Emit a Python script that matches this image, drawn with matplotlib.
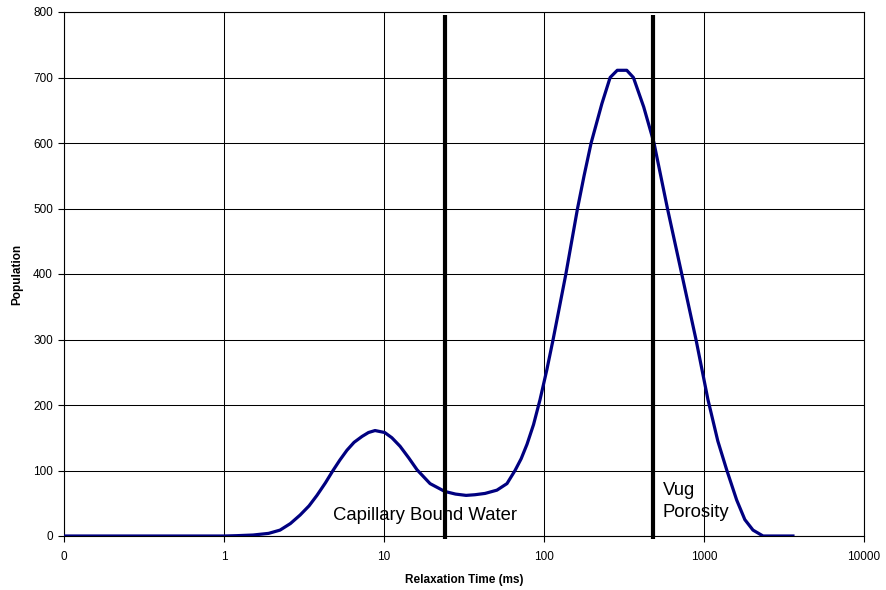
# NMR T2 relaxation time distribution with cutoffs
import numpy as np
import matplotlib.pyplot as plt
from matplotlib.ticker import FuncFormatter, FixedLocator, NullLocator

plt.rcParams['font.family'] = ['Liberation Sans', 'DejaVu Sans']

# Relaxation time (ms) and population
t2 = [0.1, 0.2, 0.5, 1.0, 1.2, 1.52, 1.9, 2.24, 2.6, 2.99, 3.4, 3.81, 4.3, 4.8,
      5.3, 5.87, 6.5, 7.29, 8.0, 8.79, 10.1, 11.2, 12.6, 14.3, 16.1, 19.4, 24.0,
      28.0, 32.6, 37.0, 42.8, 50.8, 58.7, 65.9, 72.0, 78.3, 86.0, 94.4, 104, 114,
      125, 137, 162, 178, 197, 230, 259, 287, 329, 362, 420, 487,
      591, 726, 891, 1059, 1220, 1386, 1600, 1800, 2024, 2339, 3597]
population = [0, 0, 0, 0, 0.5, 1.5, 4, 9, 19, 32, 46, 62, 81, 100,
              116, 131, 143, 152, 158, 161, 158, 150, 137, 119, 101, 80, 68,
              64, 62, 63, 65, 70, 80, 100, 118, 140, 170, 208, 253, 300,
              350, 400, 500, 550, 600, 660, 700, 711, 711, 700, 655, 600,
              500, 400, 300, 208, 145, 101, 55, 25, 9, 0, 0]

# Cutoffs (ms)
cutoffs = [24, 480]

fig = plt.figure(figsize=(8.86, 5.90), dpi=100)
ax = fig.add_axes([64/886, 54/590, 800/886, 524/590])

ax.set_xscale('log')
ax.set_xlim(0.1, 10000)
ax.set_ylim(0, 800)

ax.grid(True, which='major', color='black', lw=0.75)
ax.set_axisbelow(True)

ax.plot(t2, population, color='#000080', lw=2.3, solid_joinstyle='round', zorder=3)

for c in cutoffs:
    ax.vlines(c, -5, 795, color='black', lw=3, clip_on=False, zorder=4)

ax.text(4.8, 24, 'Capillary Bound Water', fontsize=13.3, va='baseline', ha='left')
ax.text(552, 62, 'Vug', fontsize=13.3, va='baseline', ha='left')
ax.text(552, 29, 'Porosity', fontsize=13.3, va='baseline', ha='left')

ax.xaxis.set_major_locator(FixedLocator([0.1, 1, 10, 100, 1000, 10000]))
ax.xaxis.set_minor_locator(NullLocator())
ax.xaxis.set_major_formatter(FuncFormatter(lambda v, p: f'{v:.0f}'))
ax.set_yticks(np.arange(0, 801, 100))

ax.tick_params(axis='both', direction='out', length=4, width=0.8, labelsize=8.5)
ax.tick_params(axis='x', pad=7)
ax.tick_params(axis='y', pad=4)

for s in ax.spines.values():
    s.set_linewidth(0.8)

ax.set_xlabel('Relaxation Time (ms)', fontsize=8.5, fontweight='bold', labelpad=8)
ax.set_ylabel('Population', fontsize=8.5, fontweight='bold', labelpad=7)

plt.savefig('out.png', dpi=100)
